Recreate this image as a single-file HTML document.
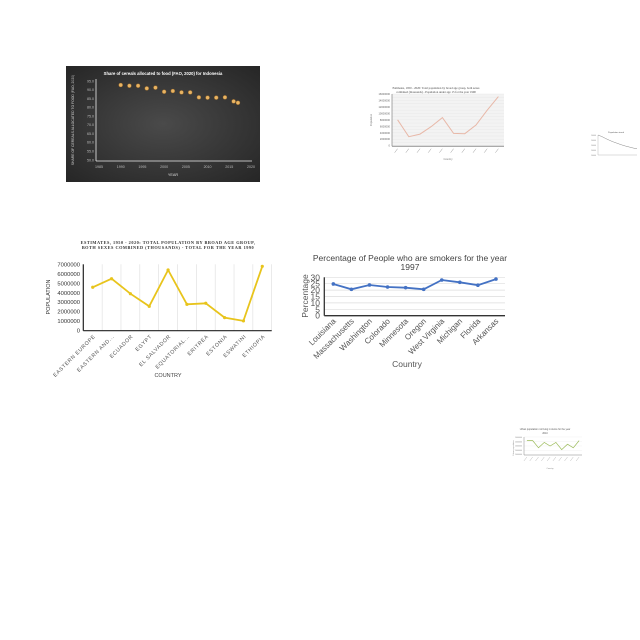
<!DOCTYPE html>
<html><head><meta charset="utf-8"><style>
html,body{margin:0;padding:0;background:#fff;width:640px;height:640px;overflow:hidden}
svg{display:block;font-family:"Liberation Sans",sans-serif}
</style></head><body>
<svg id="s" width="640" height="640" viewBox="0 0 640 640">
<defs><radialGradient id="dg" cx="50%" cy="50%" r="70%"><stop offset="0" stop-color="#4a4a4a"/><stop offset="1" stop-color="#262626"/></radialGradient></defs>
</svg>
<script>
// ---- Chart 1: cereals (dark) ----
const c1Years=[1990,1992,1994,1996,1998,2000,2002,2004,2006,2008,2010,2012,2014,2016,2017];
const c1Values=[92.7,92.3,92.3,90.8,91.2,88.9,89.3,88.5,88.5,85.7,85.5,85.5,85.7,83.4,82.6];
const c1YTicks=[95,90,85,80,75,70,65,60,55,50];
const c1XTicks=[1985,1990,1995,2000,2005,2010,2015,2020];
// ---- Chart 2: pink population ----
const c2Cats=["A","B","C","D","E","F","G","H","I","J"];
const c2Values=[8000000,2800000,3600000,5900000,8700000,3800000,3700000,6400000,11000000,15200000];
const c2YTicks=[0,2000000,4000000,6000000,8000000,10000000,12000000,14000000,16000000];
// ---- Chart 3: tiny decreasing ----
const c3Values=[10,9.2,8.2,7.3,6.5,5.8,5.1,4.5,4.0,3.5,3.1];
// ---- Chart 4: yellow population ----
const c4Cats=["EASTERN EUROPE","EASTERN AND...","ECUADOR","EGYPT","EL SALVADOR","EQUATORIAL...","ERITREA","ESTONIA","ESWATINI","ETHIOPIA"];
const c4Values=[4580000,5480000,3900000,2570000,6400000,2780000,2890000,1380000,1030000,6790000];
const c4YTicks=[0,1000000,2000000,3000000,4000000,5000000,6000000,7000000];
// ---- Chart 5: smokers ----
const c5Cats=["Louisiana","Massachusetts","Washington","Colorado","Minnesota","Oregon","West Virginia","Michigan","Florida","Arkansas"];
const c5Values=[24.8,20.6,24,22.4,21.9,20.6,27.9,26.1,23.8,28.6];
const c5YTicks=[0,5,10,15,20,25,30];
// ---- Chart 6: green ----
const c6Values=[8,8,4,7,5,7,3,6,4,8];

const S=document.getElementById('s');
function el(tag,attrs,txt){const e=document.createElementNS('http://www.w3.org/2000/svg',tag);for(const k in attrs)e.setAttribute(k,attrs[k]);if(txt!==undefined)e.textContent=txt;S.appendChild(e);return e;}
function pts(a){return a.map(p=>p[0].toFixed(1)+','+p[1].toFixed(1)).join(' ');}

// Chart 1
(function(){
 const bg=el('rect',{x:66,y:66,width:194,height:116,fill:'url(#dg)'});
 
 const t=el('text',{x:163,y:75,'font-size':4.2,'font-weight':'bold',fill:'#fff','text-anchor':'middle'},'Share of cereals allocated to food (FAO, 2020) for Indonesia');
 
 const x0=99,x1=251,y0=160,y1=81;
 const xs=v=>x0+(v-1985)/35*(x1-x0), ys=v=>y0-(v-50)/45*(y0-y1);
 c1YTicks.forEach(v=>{const l=el('text',{x:94,y:ys(v)+1.3,'font-size':3.6,fill:'#bbb','text-anchor':'end'},v.toFixed(1));});
 c1XTicks.forEach(v=>{const l=el('text',{x:xs(v),y:168,'font-size':3.6,fill:'#bbb','text-anchor':'middle'},v);});
 el('line',{x1:96,x2:252,y1:161,y2:161,stroke:'#eee','stroke-width':0.8});
 el('line',{x1:96,x2:96,y1:79,y2:161,stroke:'#eee','stroke-width':0.8});
 const yl=el('text',{x:0,y:0,'font-size':3.4,fill:'#ccc','text-anchor':'middle',transform:'translate(74,120) rotate(-90)'},'SHARE OF CEREALS ALLOCATED TO FOOD (FAO, 2020)');
 
 const xl=el('text',{x:173,y:176,'font-size':3.8,fill:'#ddd','text-anchor':'middle'},'YEAR');
 
 c1Years.forEach((y,i)=>{const c=el('circle',{cx:xs(y),cy:ys(c1Values[i]),r:2,fill:'#e8b463',stroke:'#8a5a20','stroke-width':0.4});});
})();

// Chart 2
(function(){
 el('text',{x:436,y:89,'font-size':3,fill:'#444','text-anchor':'middle','font-family':'Liberation Serif'},'Estimates, 1950 - 2020: Total population by broad age group, both sexes');
 el('text',{x:436,y:93,'font-size':3,fill:'#444','text-anchor':'middle','font-family':'Liberation Serif'},'combined (thousands) - Population under age 15 for the year 1990');
 const x0=392,x1=504,y0=145.7,y1=94;
 el('rect',{x:x0,y:y1,width:x1-x0,height:y0-y1,fill:'#f3f3f3'});
 for(let g=0;g<=16;g++){el('line',{x1:x0,x2:x1,y1:y0-g*(y0-y1)/16,y2:y0-g*(y0-y1)/16,stroke:'#e2e2e2','stroke-width':0.3});}
 const bw=(x1-x0)/c2Cats.length;
 const xs=i=>x0+bw*(i+0.5), ys=v=>y0-v/16000000*(y0-y1);
 c2YTicks.forEach(v=>el('text',{x:390,y:ys(v)+1,'font-size':2.6,fill:'#666','text-anchor':'end'},v));
 el('line',{x1:x0,x2:x1,y1:y0+0.5,y2:y0+0.5,stroke:'#555','stroke-width':0.7});
 el('line',{x1:x0,x2:x0,y1:y1,y2:y0+0.5,stroke:'#555','stroke-width':0.5});
 c2Cats.forEach((c,i)=>{const l=el('line',{x1:xs(i),y1:y0+3,x2:xs(i)-3,y2:y0+7,stroke:'#999','stroke-width':0.5});});
 el('text',{x:448,y:160,'font-size':2.6,fill:'#777','text-anchor':'middle'},'Country');
 el('text',{x:0,y:0,'font-size':2.6,fill:'#777','text-anchor':'middle',transform:'translate(372,120) rotate(-90)'},'Population');
 const p=el('polyline',{points:pts(c2Values.map((v,i)=>[xs(i),ys(v)])),fill:'none',stroke:'#e8b8a8','stroke-width':1});
 
})();

// Chart 3
(function(){
 el('text',{x:616,y:133,'font-size':2.2,fill:'#555','text-anchor':'middle'},'Population trend');
 const x0=598,x1=637,y0=155,y1=135;
 el('line',{x1:x0,x2:x1,y1:y0,y2:y0,stroke:'#aaa','stroke-width':0.4});
 el('line',{x1:x0,x2:x0,y1:y1,y2:y0,stroke:'#aaa','stroke-width':0.4});
 for(let i=0;i<5;i++)el('text',{x:596,y:y1+1+i*5,'font-size':1.8,fill:'#888','text-anchor':'end'},'10000');
 const p=el('polyline',{points:pts(c3Values.map((v,i)=>[x0+i*(x1-x0)/(c3Values.length-1),y0-v/10*(y0-y1)])),fill:'none',stroke:'#666','stroke-width':0.4});
 
})();

// Chart 4
(function(){
 const tf='Liberation Serif';
 const t1=el('text',{x:168,y:244,'font-size':4.3,'font-weight':'bold',fill:'#333','text-anchor':'middle','font-family':tf,'letter-spacing':0.5},'ESTIMATES, 1950 - 2020: TOTAL POPULATION BY BROAD AGE GROUP,');
 
 el('text',{x:168,y:249,'font-size':4.3,'font-weight':'bold',fill:'#333','text-anchor':'middle','font-family':tf,'letter-spacing':0.5},'BOTH SEXES COMBINED (THOUSANDS) - TOTAL FOR THE YEAR 1990');
 const x0=83.3,x1=271.7,y0=330.7,y1=264.3;
 const bw=(x1-x0)/c4Cats.length;
 const xs=i=>x0+bw*(i+0.5), ys=v=>y0-v/7000000*(y0-y1);
 for(let i=1;i<=c4Cats.length;i++)el('line',{x1:x0+bw*i,x2:x0+bw*i,y1:y1,y2:y0,stroke:'#ddd','stroke-width':0.6});
 c4YTicks.forEach(v=>{const l=el('text',{x:80,y:ys(v)+2,'font-size':5.8,fill:'#333','text-anchor':'end'},v);});
 el('line',{x1:x0,x2:x1,y1:y0,y2:y0,stroke:'#222','stroke-width':1.2});
 el('line',{x1:x0,x2:x0,y1:y1,y2:y0,stroke:'#222','stroke-width':1.2});
 c4Cats.forEach((c,i)=>{const l=el('text',{x:0,y:0,'font-size':5.3,fill:'#555','text-anchor':'end','letter-spacing':0.6,transform:`translate(${xs(i)+3},${y0+6}) rotate(-45)`},c);});
 const yl=el('text',{x:0,y:0,'font-size':5.5,fill:'#333','text-anchor':'middle',transform:'translate(50,297) rotate(-90)'},'POPULATION');
 
 const xl=el('text',{x:168,y:377,'font-size':5.5,fill:'#444','text-anchor':'middle'},'COUNTRY');
 
 const p=el('polyline',{points:pts(c4Values.map((v,i)=>[xs(i),ys(v)])),fill:'none',stroke:'#e8c41c','stroke-width':1.8});
 
 c4Values.forEach((v,i)=>{const c=el('circle',{cx:xs(i),cy:ys(v),r:1.6,fill:'#e8c41c'});});
})();

// Chart 5
(function(){
 const t=el('text',{x:410,y:261,'font-size':8.5,fill:'#444','text-anchor':'middle'},'Percentage of People who are smokers for the year');
 
 el('text',{x:410,y:270,'font-size':8.5,fill:'#444','text-anchor':'middle'},'1997');
 const x0=324.3,x1=505,y0=315.7,y1=277.3;
 const bw=(x1-x0)/c5Cats.length;
 const xs=i=>x0+bw*(i+0.5), ys=v=>y0-v/30*(y0-y1);
 c5YTicks.forEach(v=>{
  if(v>0)el('line',{x1:x0,x2:x1,y1:ys(v),y2:ys(v),stroke:'#ddd','stroke-width':0.7});
  const l=el('text',{x:320,y:ys(v)+3,'font-size':8.5,fill:'#555','text-anchor':'end'},v);});
 el('line',{x1:x0,x2:x1,y1:y0,y2:y0,stroke:'#333','stroke-width':1.3});
 el('line',{x1:x0,x2:x0,y1:y1,y2:y0,stroke:'#333','stroke-width':1.3});
 c5Cats.forEach((c,i)=>{const l=el('text',{x:0,y:0,'font-size':8,fill:'#555','text-anchor':'end',transform:`translate(${xs(i)+3},${y0+6}) rotate(-45)`},c);});
 const yl=el('text',{x:0,y:0,'font-size':8.5,fill:'#555','text-anchor':'middle',transform:'translate(308,296) rotate(-90)'},'Percentage');
 
 const xl=el('text',{x:407,y:367,'font-size':8.5,fill:'#555','text-anchor':'middle'},'Country');
 
 const p=el('polyline',{points:pts(c5Values.map((v,i)=>[xs(i),ys(v)])),fill:'none',stroke:'#4472c4','stroke-width':1.8});
 
 c5Values.forEach((v,i)=>{const c=el('circle',{cx:xs(i),cy:ys(v),r:1.8,fill:'#4472c4'});});
})();

// Chart 6
(function(){
 el('text',{x:545,y:430,'font-size':2.4,fill:'#555','text-anchor':'middle'},'Urban population not living in slums for the year');
 el('text',{x:545,y:434,'font-size':2.4,fill:'#555','text-anchor':'middle'},'2010');
 const x0=524,x1=582,y0=455,y1=437;
 for(let g=0;g<=4;g++)el('line',{x1:x0,x2:x1,y1:y0-g*(y0-y1)/4,y2:y0-g*(y0-y1)/4,stroke:'#e6e6e6','stroke-width':0.3});
 el('line',{x1:x0,x2:x1,y1:y0,y2:y0,stroke:'#888','stroke-width':0.5});
 el('line',{x1:x0,x2:x0,y1:y1,y2:y0,stroke:'#888','stroke-width':0.5});
 for(let i=0;i<5;i++)el('text',{x:522,y:y1+1+i*4.3,'font-size':1.8,fill:'#888','text-anchor':'end'},'1000000');
 const bw=(x1-x0)/c6Values.length;
 c6Values.forEach((v,i)=>el('line',{x1:x0+bw*(i+0.5),y1:y0+2,x2:x0+bw*(i+0.5)-3,y2:y0+6,stroke:'#aaa','stroke-width':0.4}));
 el('text',{x:550,y:469,'font-size':2,fill:'#888','text-anchor':'middle'},'Country');
 el('text',{x:0,y:0,'font-size':2,fill:'#888','text-anchor':'middle',transform:'translate(514,448) rotate(-90)'},'Urban population');
 const p=el('polyline',{points:pts(c6Values.map((v,i)=>[x0+bw*(i+0.5),y0-v/10*(y0-y1)])),fill:'none',stroke:'#9bbb59','stroke-width':0.7});
 
})();
</script>
</body></html>
